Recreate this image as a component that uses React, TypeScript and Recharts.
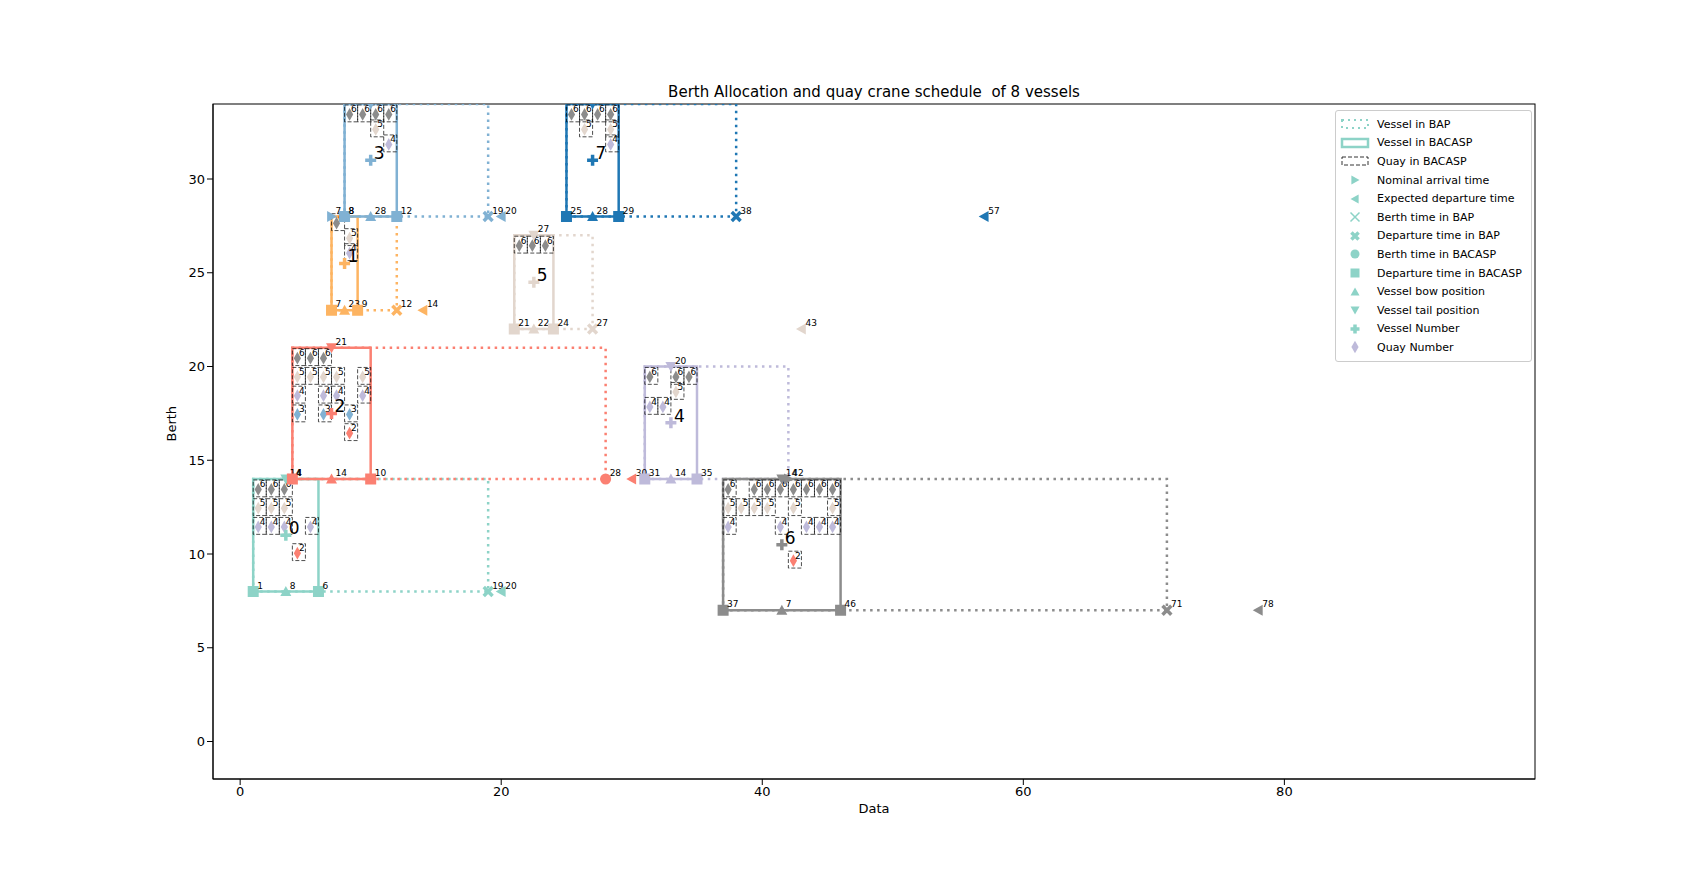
import { ComposedChart, Line, Scatter, XAxis, YAxis } from "recharts";

const colors = ["#8dd3c7", "#fdb462", "#fb8072", "#80b1d3", "#bebada", "#e2d6cd", "#8c8c8c", "#1f77b4"];

// BACASP rectangle per vessel: [x0, x1, y0, y1]
const bacasp = [
  [1, 6, 8, 14], [7, 9, 23, 28], [4, 10, 14, 21], [8, 12, 28, 34],
  [31, 35, 14, 20], [21, 24, 22, 27], [37, 46, 7, 14], [25, 29, 28, 34],
];
// BAP end time per vessel
const bapEnd = [19, 12, 28, 19, 42, 27, 71, 38];

// events: [vessel, kind, x, y, label]
const events: [number, string, number, number, string][] = [
  [0, "square", 1, 8, "1"], [0, "up", 3.5, 8, "8"], [0, "square", 6, 8, "6"], [0, "X", 19, 8, "19"], [0, "left", 20, 8, "20"], [0, "down", 3.5, 14, "14"], [0, "right", 4, 14, "4"], [0, "plus", 3.5, 11, ""],
  [1, "square", 7, 23, "7"], [1, "up", 8, 23, "23"], [1, "square", 9, 23, "9"], [1, "X", 12, 23, "12"], [1, "left", 14, 23, "14"], [1, "down", 8, 28, "8"], [1, "plus", 8, 25.5, ""],
  [2, "square", 4, 14, "4"], [2, "up", 7, 14, "14"], [2, "square", 10, 14, "10"], [2, "circle", 28, 14, "28"], [2, "left", 30, 14, "30"], [2, "down", 7, 21, "21"], [2, "plus", 7, 17.5, ""],
  [3, "right", 7, 28, "7"], [3, "square", 8, 28, "8"], [3, "up", 10, 28, "28"], [3, "square", 12, 28, "12"], [3, "X", 19, 28, "19"], [3, "left", 20, 28, "20"], [3, "down", 10, 34, "34"], [3, "plus", 10, 31, ""],
  [4, "square", 31, 14, "31"], [4, "up", 33, 14, "14"], [4, "square", 35, 14, "35"], [4, "down", 33, 20, "20"], [4, "plus", 33, 17, ""],
  [5, "square", 21, 22, "21"], [5, "up", 22.5, 22, "22"], [5, "square", 24, 22, "24"], [5, "X", 27, 22, "27"], [5, "left", 43, 22, "43"], [5, "down", 22.5, 27, "27"], [5, "plus", 22.5, 24.5, ""],
  [6, "square", 37, 7, "37"], [6, "up", 41.5, 7, "7"], [6, "square", 46, 7, "46"], [6, "X", 71, 7, "71"], [6, "left", 78, 7, "78"], [6, "down", 41.5, 14, "14"], [6, "right", 42, 14, "42"], [6, "plus", 41.5, 10.5, ""],
  [7, "square", 25, 28, "25"], [7, "up", 27, 28, "28"], [7, "square", 29, 28, "29"], [7, "X", 38, 28, "38"], [7, "left", 57, 28, "57"], [7, "down", 27, 34, "34"], [7, "plus", 27, 31, ""],
];
// big vessel numbers placed near the plus marker
const vesselNumbers = [0, 1, 2, 3, 4, 5, 6, 7];

// quay cells: [crane, xStart, yStart]
const cells: [number, number, number][] = [
  [6, 1, 13], [6, 2, 13], [6, 3, 13], [5, 1, 12], [5, 2, 12], [5, 3, 12], [4, 1, 11], [4, 2, 11], [4, 3, 11], [4, 5, 11], [2, 4, 9.6],
  [6, 7, 27.2], [5, 8, 26.4], [4, 8, 25.6],
  [6, 4, 20], [6, 5, 20], [6, 6, 20], [5, 4, 19], [5, 5, 19], [5, 6, 19], [5, 7, 19], [5, 9, 19],
  [4, 4, 18], [4, 6, 18], [4, 7, 18], [4, 9, 18], [3, 4, 17], [3, 6, 17], [3, 8, 17], [2, 8, 16],
  [6, 8, 33], [6, 9, 33], [6, 10, 33], [6, 11, 33], [5, 10, 32.2], [4, 11, 31.4],
  [6, 31, 19], [6, 33, 19], [6, 34, 19], [5, 33, 18.2], [4, 31, 17.4], [4, 32, 17.4],
  [6, 21, 26], [6, 22, 26], [6, 23, 26],
  [6, 37, 13], [6, 39, 13], [6, 40, 13], [6, 41, 13], [6, 42, 13], [6, 43, 13], [6, 44, 13], [6, 45, 13],
  [5, 37, 12], [5, 38, 12], [5, 39, 12], [5, 40, 12], [5, 42, 12], [5, 45, 12],
  [4, 37, 11], [4, 41, 11], [4, 43, 11], [4, 44, 11], [4, 45, 11], [2, 42, 9.2],
  [6, 25, 33], [6, 26, 33], [6, 27, 33], [6, 28, 33], [5, 26, 32.2], [5, 28, 32.2], [4, 28, 31.4],
];

const xTicks = [0, 20, 40, 60, 80];
const yTicks = [0, 5, 10, 15, 20, 25, 30];
const xDomain = [-2.08, 99.2];
const yDomain = [-2, 34];

const W = 1698, H = 865;
const M = { top: 96, right: 171, bottom: 64, left: 165 };
const YW = 40, XH = 30;
const plotW = W - M.left - M.right - YW;
const plotH = H - M.top - M.bottom - XH;
const ux = plotW / (xDomain[1] - xDomain[0]);
const uy = plotH / (yDomain[1] - yDomain[0]);

const rectPts = (r: number[]) => [
  { x: r[0], y: r[2] }, { x: r[1], y: r[2] }, { x: r[1], y: r[3] }, { x: r[0], y: r[3] }, { x: r[0], y: r[2] },
];

function Marker({ kind, cx, cy, c, s = 5.5 }: { kind: string; cx: number; cy: number; c: string; s?: number }) {
  switch (kind) {
    case "circle": return <circle cx={cx} cy={cy} r={s} fill={c} />;
    case "square": return <rect x={cx - s} y={cy - s} width={2 * s} height={2 * s} fill={c} />;
    case "up": return <path d={`M${cx},${cy - s}L${cx + s},${cy + s * 0.8}L${cx - s},${cy + s * 0.8}Z`} fill={c} />;
    case "down": return <path d={`M${cx},${cy + s}L${cx + s},${cy - s * 0.8}L${cx - s},${cy - s * 0.8}Z`} fill={c} />;
    case "right": return <path d={`M${cx + s},${cy}L${cx - s * 0.8},${cy - s}L${cx - s * 0.8},${cy + s}Z`} fill={c} />;
    case "left": return <path d={`M${cx - s},${cy}L${cx + s * 0.8},${cy - s}L${cx + s * 0.8},${cy + s}Z`} fill={c} />;
    case "x": return <path d={`M${cx - s},${cy - s}L${cx + s},${cy + s}M${cx - s},${cy + s}L${cx + s},${cy - s}`} stroke={c} strokeWidth={1.5} />;
    case "X": return <path d={`M${cx - s * 0.8},${cy - s * 0.8}L${cx + s * 0.8},${cy + s * 0.8}M${cx - s * 0.8},${cy + s * 0.8}L${cx + s * 0.8},${cy - s * 0.8}`} stroke={c} strokeWidth={3.5} />;
    case "plus": return <path d={`M${cx - s},${cy}L${cx + s},${cy}M${cx},${cy - s}L${cx},${cy + s}`} stroke={c} strokeWidth={3.5} />;
    case "diamond": return <path d={`M${cx},${cy - s * 1.4}L${cx + s * 0.8},${cy}L${cx},${cy + s * 1.4}L${cx - s * 0.8},${cy}Z`} fill={c} />;
  }
  return null;
}

const EventShape = (p: any) => {
  const d = p.payload;
  const c = colors[d.v];
  return (
    <g>
      <Marker kind={d.kind} cx={p.cx} cy={p.cy} c={c} />
      {d.label && <text x={p.cx + 4} y={p.cy - 3} fontSize={9} fill="#000">{d.label}</text>}
      {d.kind === "plus" && <text x={p.cx + 3} y={p.cy - 1} fontSize={17} fill="#000">{vesselNumbers[d.v]}</text>}
    </g>
  );
};

const CellShape = (p: any) => {
  const d = p.payload;
  const w = ux, h = uy * 0.9;
  const x0 = p.cx - w / 2, y0 = p.cy - h / 2;
  return (
    <g>
      <rect x={x0} y={y0} width={w} height={h} fill="none" stroke="#000" strokeWidth={0.7} strokeDasharray="4 2" />
      <Marker kind="diamond" cx={p.cx - 1.5} cy={p.cy + 1} c={colors[d.q]} s={4.5} />
      <text x={p.cx} y={p.cy - 1} fontSize={9} fill="#000">{d.q}</text>
    </g>
  );
};

const legendItems: [string, string][] = [
  ["bap", "Vessel in BAP"], ["bacasp", "Vessel in BACASP"], ["quay", "Quay in BACASP"],
  ["right", "Nominal arrival time"], ["left", "Expected departure time"], ["x", "Berth time in BAP"],
  ["X", "Departure time in BAP"], ["circle", "Berth time in BACASP"], ["square", "Departure time in BACASP"],
  ["up", "Vessel bow position"], ["down", "Vessel tail position"], ["plus", "Vessel Number"], ["diamond", "Quay Number"],
];

export default function App() {
  const evData = events.map(([v, kind, x, y, label]) => ({ v, kind, x, y, label }));
  const cellData = cells.map(([q, x, y]) => ({ q, x: x + 0.5, y: y + 0.5 }));
  const lc = "#8dd3c7";
  return (
    <div style={{ position: "relative", width: W, height: H, fontFamily: "DejaVu Sans" }}>
      <ComposedChart width={W} height={H} margin={M}>
        <text x={M.left + YW + plotW / 2} y={89} textAnchor="middle" fontSize={15} fill="#000" style={{ whiteSpace: "pre" }}>
          {"Berth Allocation and quay crane schedule \u00a0of 8 vessels"}
        </text>
        <XAxis type="number" dataKey="x" domain={xDomain} ticks={xTicks} allowDataOverflow height={XH}
          tick={{ fontSize: 13, fill: "#000" }} tickLine={{ stroke: "#000" }} axisLine={{ stroke: "#000" }}
          label={{ value: "Data", position: "insideBottom", offset: -4, fontSize: 13, fill: "#000" }} />
        <YAxis type="number" dataKey="y" domain={yDomain} ticks={yTicks} allowDataOverflow width={YW}
          tick={{ fontSize: 13, fill: "#000" }} tickLine={{ stroke: "#000" }} axisLine={{ stroke: "#000" }}
          label={{ value: "Berth", angle: -90, position: "insideLeft", offset: -2, fontSize: 13, fill: "#000" }} />
        {bacasp.map((r, i) => (
          <Line key={"bap" + i} data={rectPts([r[0], bapEnd[i], r[2], r[3]])} dataKey="y" stroke={colors[i]}
            strokeWidth={2.5} strokeDasharray="2.5 4.5" dot={false} isAnimationActive={false} />
        ))}
        {bacasp.map((r, i) => (
          <Line key={"bc" + i} data={rectPts(r)} dataKey="y" stroke={colors[i]} strokeWidth={2.5}
            dot={false} isAnimationActive={false} />
        ))}
        <Scatter data={cellData} shape={CellShape} isAnimationActive={false} />
        <Scatter data={evData} shape={EventShape} isAnimationActive={false} />
        <rect x={M.left + YW} y={M.top} width={plotW} height={plotH} fill="none" stroke="#000" strokeWidth={1} />
      </ComposedChart>
      <div style={{ position: "absolute", left: 1327, top: 102, width: 195, padding: "4px 0", border: "1px solid #ccc", borderRadius: 3, background: "#fff", fontSize: 11, whiteSpace: "nowrap" }}>
        {legendItems.map(([k, t]) => (
          <div key={k} style={{ display: "flex", alignItems: "center", height: 18.6 }}>
            <svg width={32} height={14} style={{ marginLeft: 3, marginRight: 6, flexShrink: 0 }}>
              {k === "bap" && <rect x={3} y={3} width={26} height={8} fill="none" stroke={lc} strokeWidth={2} strokeDasharray="2 4" />}
              {k === "bacasp" && <rect x={3} y={3} width={26} height={8} fill="none" stroke={lc} strokeWidth={2.5} />}
              {k === "quay" && <rect x={3} y={3} width={26} height={8} fill="none" stroke="#000" strokeWidth={0.8} strokeDasharray="4 2" />}
              {!["bap", "bacasp", "quay"].includes(k) && <Marker kind={k} cx={16} cy={7} c={k === "diamond" ? "#bebada" : lc} s={4.5} />}
            </svg>
            <span>{t}</span>
          </div>
        ))}
      </div>
    </div>
  );
}
